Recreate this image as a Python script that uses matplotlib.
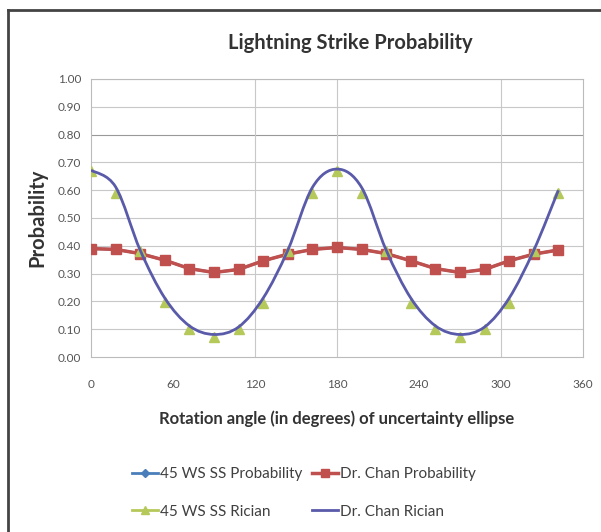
import matplotlib.pyplot as plt
import matplotlib as mlt
from matplotlib.path import Path
from matplotlib.patches import PathPatch
from matplotlib.lines import Line2D
import numpy as np

mlt.rcParams['font.family'] = ['Lato', 'DejaVu Sans']

# rotation angle (degrees)
angles = [0, 18, 36, 54, 72, 90, 108, 126, 144, 162,
          180, 198, 216, 234, 252, 270, 288, 306, 324, 342]

ws_prob = [0.390, 0.387, 0.372, 0.348, 0.318, 0.304, 0.315, 0.346, 0.370, 0.387,
           0.394, 0.387, 0.372, 0.346, 0.318, 0.304, 0.315, 0.346, 0.370, 0.385]
chan_prob = [0.390, 0.387, 0.372, 0.348, 0.318, 0.304, 0.315, 0.346, 0.370, 0.387,
             0.394, 0.387, 0.372, 0.346, 0.318, 0.304, 0.315, 0.346, 0.370, 0.385]
ws_rician = [0.670, 0.590, 0.380, 0.198, 0.099, 0.072, 0.099, 0.195, 0.380, 0.590,
             0.670, 0.590, 0.380, 0.195, 0.099, 0.072, 0.099, 0.195, 0.380, 0.590]
chan_rician = [0.672, 0.612, 0.384, 0.212, 0.112, 0.081, 0.108, 0.212, 0.384, 0.610,
               0.676, 0.610, 0.384, 0.212, 0.112, 0.081, 0.108, 0.212, 0.384, 0.600]

xticks = [0, 60, 120, 180, 240, 300, 360]
yticks = np.arange(0, 1.01, 0.1)


def smooth_path(x, y):
    # excel style smoothed line: catmull-rom segments as cubic beziers
    pts = np.column_stack([x, y]).astype(float)
    n = len(pts)
    verts = [pts[0]]
    codes = [Path.MOVETO]
    for i in range(n - 1):
        p0 = pts[max(i - 1, 0)]
        p1 = pts[i]
        p2 = pts[i + 1]
        p3 = pts[min(i + 2, n - 1)]
        verts += [p1 + (p2 - p0) / 6.0, p2 - (p3 - p1) / 6.0, p2]
        codes += [Path.CURVE4] * 3
    return Path(verts, codes)


W, H = 601, 532
fig = plt.figure(figsize=(W / 100, H / 100), dpi=100)
ax = fig.add_axes([91 / W, 1 - 357 / H, (583 - 91) / W, (357 - 79) / H])

ax.set_xlim(0, 360)
ax.set_ylim(0, 1.0)
ax.set_xticks(xticks)
ax.set_yticks(yticks)
ax.set_yticklabels(["%.2f" % v for v in yticks])
ax.tick_params(length=0, labelsize=8.5, colors='#555555', pad=7)
ax.tick_params(axis='x', pad=16)
for s in ax.spines.values():
    s.set_color('#BBBBBB')
    s.set_linewidth(0.8)

for v in yticks[1:]:
    ax.axhline(v, color='#999999' if abs(v - 0.8) < 1e-6 else '#C8C8C8', lw=0.8, zorder=0)
for v in [120, 180, 300]:
    ax.axvline(v, color='#C8C8C8', lw=0.8, zorder=0)

ax.plot(angles, ws_prob, color='#4A7EBB', lw=2, marker='D', ms=4, zorder=2)
ax.plot(angles, chan_prob, color='#C0504D', lw=2.5, marker='s', ms=7, zorder=3)
ax.plot(angles, ws_rician, color='#B5C95A', lw=0, marker='^', ms=6.5, zorder=4)
ax.add_patch(PathPatch(smooth_path(angles, chan_rician), facecolor='none',
                       edgecolor='#5A5AAA', lw=2, zorder=5))

fig.text(350 / W, 1 - 43 / H, "Lightning Strike Probability", ha='center', va='center',
         fontsize=14.5, fontweight='bold', color='#333333')
fig.text(37 / W, 1 - 218 / H, "Probability", rotation=90, ha='center', va='center',
         fontsize=14.5, fontweight='bold', color='#333333')
fig.text(337 / W, 1 - 419 / H, "Rotation angle (in degrees) of uncertainty ellipse",
         ha='center', va='center', fontsize=12, fontweight='bold', color='#333333')

handles = [
    Line2D([], [], color='#4A7EBB', lw=2, marker='D', ms=4),
    Line2D([], [], color='#B5C95A', lw=2, marker='^', ms=6),
    Line2D([], [], color='#C0504D', lw=2.5, marker='s', ms=6),
    Line2D([], [], color='#5A5AAA', lw=2),
]
labels = ["45 WS SS Probability", "45 WS SS Rician", "Dr. Chan Probability", "Dr. Chan Rician"]
leg = fig.legend(handles, labels, ncol=2, loc='upper left',
                 bbox_to_anchor=(132 / W, 1 - 467 / H), frameon=False,
                 fontsize=11, handlelength=1.7, handletextpad=0.15,
                 columnspacing=0.6, labelspacing=1.55, borderpad=0, borderaxespad=0)
for t in leg.get_texts():
    t.set_color('#404040')

# chart area border (top and left edges visible)
fig.add_artist(Line2D([8 / W, 1], [1 - 10 / H, 1 - 10 / H], color='#444444', lw=2))
fig.add_artist(Line2D([8 / W, 8 / W], [0, 1 - 10 / H], color='#444444', lw=2))

fig.savefig("out.png", dpi=100)
